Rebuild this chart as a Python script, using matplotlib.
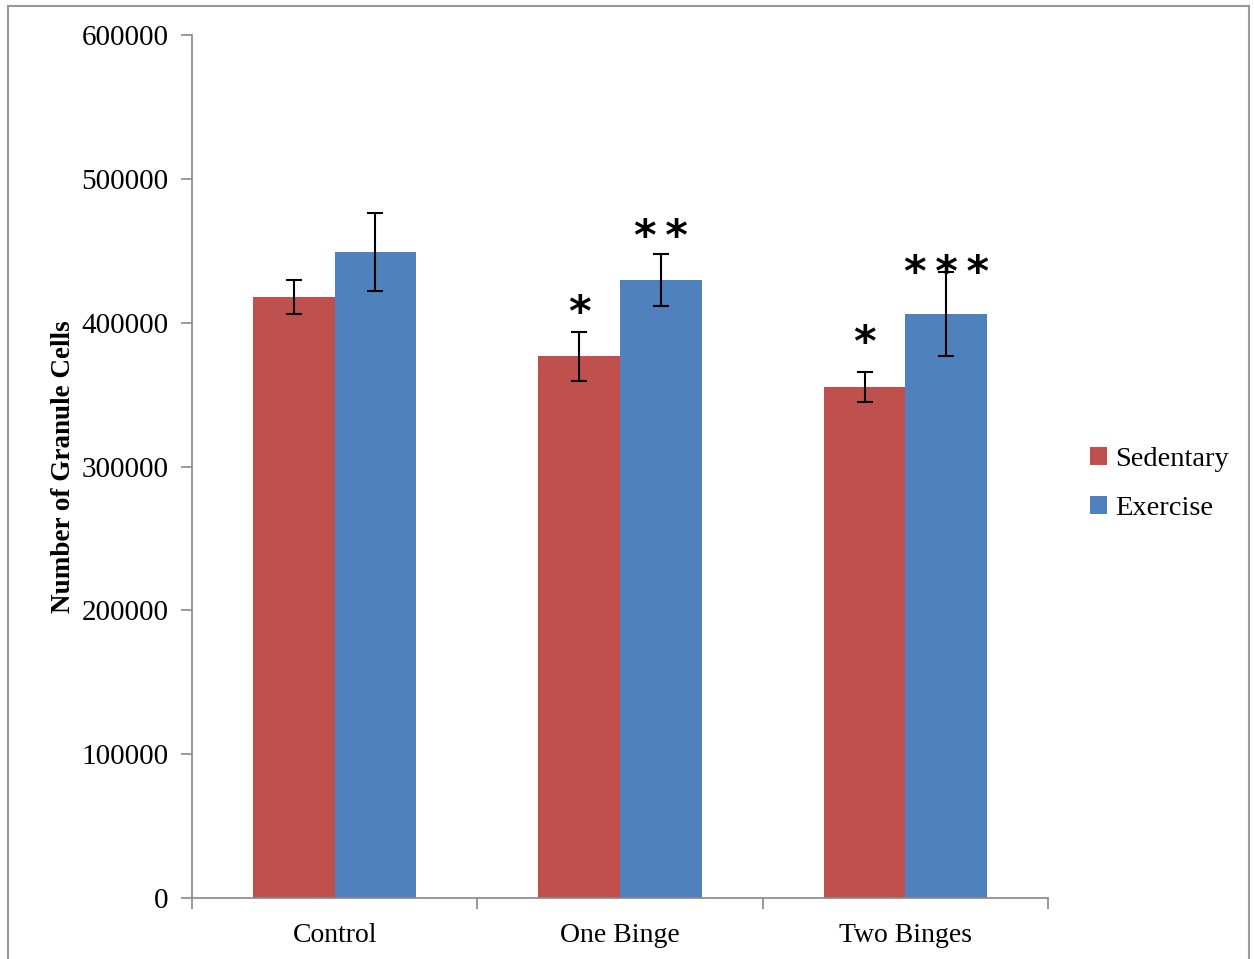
import matplotlib.pyplot as plt
import numpy as np
from matplotlib.patches import Rectangle

groups = ['Control', 'One Binge', 'Two Binges']
sedentary = [417700, 376700, 355200]
sedentary_err = [12000, 17000, 10500]
exercise = [449000, 429500, 405900]
exercise_err = [27000, 18000, 29000]
sed_stars = ['', '*', '*']
ex_stars = ['', '**', '***']

red = '#c0504d'
blue = '#4f81bd'
serif = ['Liberation Serif', 'DejaVu Serif']

fig = plt.figure(figsize=(12.54, 9.59), dpi=100)
ax = fig.add_axes([0.1531, 0.0636, 0.6826, 0.8999])

x = np.arange(len(groups))
w = 0.286
ax.bar(x - w / 2, sedentary, w, color=red, label='Sedentary', zorder=2)
ax.bar(x + w / 2, exercise, w, color=blue, label='Exercise', zorder=2)
ax.errorbar(x - w / 2, sedentary, yerr=sedentary_err, fmt='none', ecolor='black',
            elinewidth=1.5, capsize=6, capthick=1.5, zorder=3)
ax.errorbar(x + w / 2, exercise, yerr=exercise_err, fmt='none', ecolor='black',
            elinewidth=1.5, capsize=6, capthick=1.5, zorder=3)

# significance stars
sed_off = [0, 13, 20]
ex_off = [0, 12, -1]
for i in range(len(groups)):
    if sed_stars[i]:
        ax.annotate(sed_stars[i], (x[i] - w / 2, sedentary[i] + sedentary_err[i]),
                    xytext=(0, sed_off[i]), textcoords='offset points',
                    ha='center', va='center', fontsize=31, fontweight='bold',
                    family='DejaVu Sans', zorder=4)
    if ex_stars[i]:
        ax.annotate('\u2009'.join(ex_stars[i]), (x[i] + w / 2, exercise[i] + exercise_err[i]),
                    xytext=(0, ex_off[i]), textcoords='offset points',
                    ha='center', va='center', fontsize=31, fontweight='bold',
                    family='DejaVu Sans', zorder=4)

ax.set_xlim(-0.5, 2.5)
ax.set_ylim(0, 600000)
ax.set_yticks(np.arange(0, 600001, 100000))
ax.set_xticks(x)
ax.set_xticklabels(groups, family=serif, fontsize=20)
ax.set_xticks([-0.5, 0.5, 1.5, 2.5], minor=True)
ax.tick_params(axis='x', which='major', length=0, pad=18)
ax.tick_params(axis='x', which='minor', length=8, color='#888888', width=1.2)
ax.tick_params(axis='y', length=8, color='#888888', width=1.2, labelsize=21, pad=9)
for lab in ax.get_yticklabels():
    lab.set_family(serif)

for s in ['top', 'right']:
    ax.spines[s].set_visible(False)
for s in ['left', 'bottom']:
    ax.spines[s].set_color('#888888')
    ax.spines[s].set_linewidth(1.2)

ax.set_ylabel('Number of Granule Cells', family=serif, fontsize=19.5,
              fontweight='bold', labelpad=4)

leg = ax.legend(loc='center left', bbox_to_anchor=(1.049, 0.48), frameon=False,
                prop={'family': serif, 'size': 20.5}, handlelength=0.6,
                handleheight=0.6, handletextpad=0.3, labelspacing=0.85,
                borderpad=0, borderaxespad=0)

fig.patches.append(Rectangle((0.006, -0.01), 0.99, 1.004, transform=fig.transFigure,
                             fill=False, edgecolor='#999999', linewidth=1.5))

fig.savefig('out.png', dpi=100)
